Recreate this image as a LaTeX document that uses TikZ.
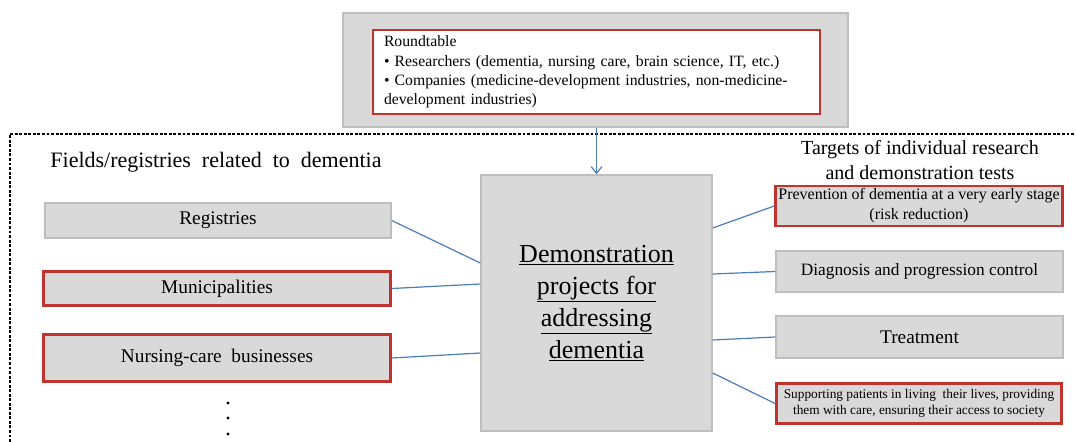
\documentclass[tikz,border=0pt]{standalone}
\usepackage{fontspec}
\setmainfont{Liberation Serif}
\usepackage{tikz}
\usetikzlibrary{arrows.meta, positioning, calc}

\definecolor{boxgray}{RGB}{217,217,217}
\definecolor{edgegray}{RGB}{190,190,190}
\definecolor{boxred}{RGB}{192,52,48}
\definecolor{lineblue}{RGB}{74,126,187}

\begin{document}
\begin{tikzpicture}[
      x=0.75pt, y=-0.75pt,
      block/.style={rectangle, draw=edgegray, line width=1.1pt, fill=boxgray,
                    align=center, inner sep=2pt, font=\fontsize{14.5}{17}\selectfont},
      redblock/.style={block, draw=boxred, line width=2.2pt},
      title/.style={align=center, inner sep=0pt},
      link/.style={lineblue, line width=0.9pt},
      arrow/.style={link, -{Straight Barb[length=5pt, width=8pt]}},
      frame/.style={dashed, dash pattern=on 2.2pt off 1.2pt, line width=0.8pt}
    ]
        \useasboundingbox (0,0) rectangle (1076,442);
        % dashed frame around the lower part
        \draw[frame] (10,442) -- (10,134) -- (1076,134);
        % roundtable on top
        \node[block, minimum width=378.75pt, minimum height=85.5pt] (rtbg) at (595.5,70) {};
        \node[redblock, fill=white, minimum width=335.25pt, minimum height=63pt,
              text width=318.75pt, align=left,
              font=\fontsize{11.8}{14.6}\selectfont] (rt) at (596.5,72)
              {Roundtable\\
               • Researchers (dementia, nursing care, brain science, IT, etc.)\\
               • Companies (medicine-development industries, non-medicine-\\
               development industries)};
        % central project
        \node[block, minimum width=173.25pt, minimum height=192pt,
              font=\fontsize{19.5}{24}\selectfont] (main) at (596.5,303)
              {\underline{Demonstration}\\ \underline{projects for}\\
               \underline{addressing}\\ \underline{dementia}};
        % fields on the left
        \node[title, font=\fontsize{16.5}{20}\selectfont] (fields) at (216,162)
              {Fields/registries\ \ related\ \ to\ \ dementia};
        \node[block, minimum width=259.5pt, minimum height=26.25pt] (reg) at (218,220.5) {Registries};
        \node[redblock, minimum width=260.25pt, minimum height=25.5pt] (mun) at (217,288.5) {Municipalities};
        \node[redblock, minimum width=260.25pt, minimum height=35.25pt] (nur) at (217,358) {Nursing-care\ \ businesses};
        \foreach \y in {403,418,434}
            \fill (228,\y) circle[radius=1.3pt];
        % targets on the right
        \node[title, font=\fontsize{15}{18.75}\selectfont] (targets) at (920,160)
              {Targets of individual research\\ and demonstration tests};
        \node[redblock, minimum width=213.75pt, minimum height=29.25pt,
              font=\fontsize{12}{15}\selectfont] (prev) at (919,206)
              {Prevention of dementia at a very early stage\\(risk reduction)};
        \node[block, minimum width=215.25pt, minimum height=30.75pt,
              font=\fontsize{13}{16}\selectfont] (diag) at (919.5,271.5) {Diagnosis and progression control};
        \node[block, minimum width=215.25pt, minimum height=31.5pt] (treat) at (919.5,337) {Treatment};
        \node[redblock, minimum width=213.75pt, minimum height=30pt,
              font=\fontsize{10}{12}\selectfont] (supp) at (919,403.5)
              {Supporting patients in living\ \ their lives, providing\\them with care, ensuring their access to society};
        % connectors
        \draw[arrow] (rtbg.south -| main.north) -- (main.north);
        \draw[link] (reg.east) -- ([yshift=30pt]main.west);
        \draw[link] (mun.east) -- ([yshift=14.25pt]main.west);
        \draw[link] (nur.east) -- ([yshift=-37.5pt]main.west);
        \draw[link] ([yshift=56.25pt]main.east) -- (prev.west);
        \draw[link] ([yshift=21.75pt]main.east) -- (diag.west);
        \draw[link] ([yshift=-27.75pt]main.east) -- (treat.west);
        \draw[link] ([yshift=-52.5pt]main.east) -- (supp.west);
    \end{tikzpicture}
\end{document}
